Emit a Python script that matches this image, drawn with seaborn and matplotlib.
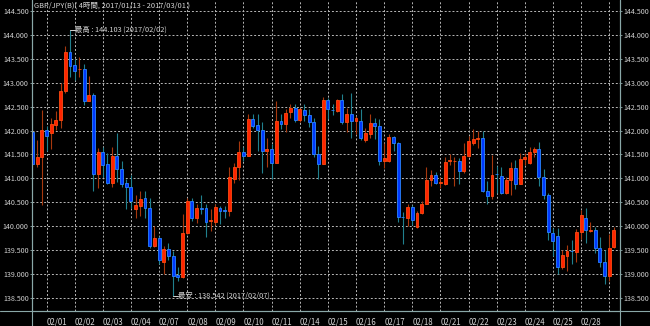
import numpy as np
import pandas as pd
import matplotlib
matplotlib.use("Agg")
import matplotlib.pyplot as plt
import seaborn as sns
from matplotlib.lines import Line2D

# ---------------- data (GBP/JPY 4h candles) ----------------
opens = [141.97, 141.31, 141.44, 142.01, 141.94, 142.12, 142.22, 142.82, 143.65, 143.37,
         143.28, 143.28, 142.62, 142.75, 141.10, 141.56, 141.31, 140.91, 141.47, 141.19,
         140.90, 140.81, 140.35, 140.43, 140.59, 140.38, 139.59, 139.75, 139.26, 139.53,
         139.38, 138.97, 138.93, 139.86, 140.53, 140.18, 140.38, 140.38, 140.10, 140.09,
         140.38, 140.33, 140.31, 140.99, 141.24, 141.55, 141.47, 142.24, 142.11, 142.01,
         141.57, 141.61, 141.33, 142.20, 142.13, 142.38, 142.47, 142.23, 142.43, 142.33,
         142.18, 141.51, 141.31, 142.64, 142.43, 142.40, 142.63, 142.17, 142.34, 142.19,
         142.20, 141.81, 141.92, 142.15, 142.10, 141.37, 141.37, 141.87, 141.73, 140.20,
         140.18, 140.40, 139.99, 140.27, 140.47, 140.96, 141.07, 140.90, 140.89, 141.36,
         141.36, 141.37, 141.16, 141.47, 141.73, 141.82, 141.84, 140.74, 140.63, 141.10,
         141.05, 140.70, 140.96, 141.22, 140.89, 141.40, 141.33, 141.55, 141.61, 141.02,
         140.66, 139.85, 139.80, 139.15, 139.38, 139.48, 139.47, 139.87, 140.18, 139.91,
         139.92, 139.55, 139.26, 138.96, 139.57]
highs = [142.47, 141.80, 142.43, 142.10, 142.26, 142.41, 143.00, 143.77, 144.103, 143.49,
         143.53, 143.40, 143.14, 142.79, 141.64, 141.66, 141.54, 141.66, 141.95, 141.37,
         140.98, 141.07, 140.66, 140.74, 140.74, 140.60, 140.01, 139.80, 139.59, 139.64,
         139.48, 139.14, 140.26, 140.60, 140.60, 140.47, 140.66, 140.47, 140.36, 140.47,
         140.43, 140.43, 141.23, 141.33, 141.78, 141.66, 142.34, 142.34, 142.34, 142.17,
         141.85, 141.71, 142.62, 142.34, 142.45, 142.56, 142.56, 142.47, 142.55, 142.45,
         142.27, 141.68, 142.70, 142.68, 142.55, 142.66, 142.76, 142.47, 142.79, 142.31,
         142.45, 142.06, 142.34, 142.27, 142.24, 141.73, 141.92, 141.89, 141.77, 140.29,
         140.47, 140.45, 140.32, 140.53, 141.24, 141.17, 141.14, 141.03, 141.45, 141.50,
         141.45, 141.42, 141.73, 141.89, 142.03, 141.99, 141.99, 140.95, 141.49, 141.26,
         141.24, 141.03, 141.35, 141.38, 141.54, 141.54, 141.66, 141.66, 141.77, 141.19,
         140.70, 139.97, 139.97, 139.50, 139.60, 139.71, 139.94, 140.33, 140.38, 140.08,
         139.99, 139.78, 139.50, 139.83, 139.99]
lows = [141.30, 141.24, 140.44, 141.57, 141.62, 142.01, 142.05, 142.79, 143.11, 143.05,
        143.11, 142.54, 142.61, 140.74, 140.79, 141.02, 140.88, 140.83, 140.93, 140.81,
        140.37, 140.39, 140.18, 140.22, 140.18, 139.55, 139.57, 139.22, 139.01, 139.29,
        138.542, 138.86, 138.91, 139.83, 140.11, 140.06, 140.25, 139.78, 139.90, 140.03,
        140.04, 140.18, 140.22, 140.91, 140.96, 141.37, 141.47, 142.05, 141.57, 141.12,
        141.24, 140.98, 141.33, 142.03, 141.98, 142.27, 142.17, 142.17, 142.20, 142.08,
        141.44, 140.98, 141.31, 142.24, 142.33, 142.38, 142.13, 141.98, 141.84, 141.92,
        141.80, 141.77, 141.84, 141.82, 141.28, 141.21, 141.35, 141.57, 140.08, 139.62,
        140.01, 140.03, 139.97, 140.25, 140.46, 140.84, 140.88, 140.80, 140.86, 141.28,
        140.84, 140.89, 141.12, 141.45, 141.70, 141.64, 140.72, 140.46, 140.56, 140.70,
        140.67, 140.68, 140.66, 140.77, 140.88, 141.28, 141.31, 141.44, 140.84, 140.56,
        139.71, 139.38, 139.00, 139.10, 139.07, 139.22, 139.26, 139.73, 139.65, 139.87,
        139.45, 139.14, 138.80, 138.86, 139.55]
closes = [141.31, 141.45, 142.01, 141.89, 142.13, 142.23, 142.83, 143.65, 143.35, 143.25,
          143.29, 142.62, 142.75, 141.10, 141.56, 141.28, 140.91, 141.47, 141.19, 140.89,
          140.81, 140.52, 140.45, 140.56, 140.38, 139.59, 139.75, 139.29, 139.53, 139.38,
          138.96, 138.93, 139.86, 140.53, 140.18, 140.39, 140.37, 140.09, 140.12, 140.40,
          140.32, 140.31, 141.02, 141.24, 141.55, 141.46, 142.24, 142.10, 142.01, 141.57,
          141.62, 141.33, 142.20, 142.13, 142.36, 142.47, 142.23, 142.45, 142.33, 142.17,
          141.51, 141.31, 142.64, 142.45, 142.42, 142.63, 142.17, 142.34, 142.20, 142.26,
          141.84, 141.94, 142.15, 142.10, 141.37, 141.42, 141.87, 141.73, 140.20, 140.19,
          140.40, 140.13, 140.27, 140.47, 140.96, 141.07, 140.91, 140.92, 141.35, 141.38,
          141.37, 141.16, 141.47, 141.78, 141.82, 141.85, 140.74, 140.63, 141.08, 141.09,
          140.70, 140.96, 141.22, 140.89, 141.40, 141.44, 141.56, 141.62, 141.02, 140.66,
          139.87, 139.69, 139.15, 139.40, 139.48, 139.48, 139.87, 140.24, 139.92, 139.92,
          139.55, 139.26, 138.96, 139.55, 139.92]
date_labels = ["02/01", "02/02", "02/03", "02/04", "02/07", "02/08", "02/09", "02/10",
               "02/11", "02/14", "02/15", "02/16", "02/17", "02/18", "02/21", "02/22",
               "02/23", "02/24", "02/25", "02/28"]
y_ticks = [138.5, 139.0, 139.5, 140.0, 140.5, 141.0, 141.5, 142.0, 142.5, 143.0, 143.5, 144.0, 144.5]
title = "GBP/JPY(B)( 4時間, 2017/01/13 - 2017/03/01 )"
hi_date = "2017/02/02"
lo_date = "2017/02/07"

# ---------------- style ----------------
BG = "#000000"
AXC = "#8aa8a8"
TXT = "#d4d4d4"
GRIDC = "#b8b8b8"
UP_FACE, UP_EDGE, UP_WICK = "#ff2400", "#ff4a10", "#a8380e"
DN_FACE, DN_EDGE, DN_WICK = "#0038ff", "#2a84ff", "#20808e"

sns.set_style("dark", {"axes.facecolor": BG, "figure.facecolor": BG})
plt.rcParams["font.family"] = ["Liberation Sans Narrow", "Noto Sans CJK JP", "DejaVu Sans"]

df = pd.DataFrame({"open": opens, "high": highs, "low": lows, "close": closes})
df["idx"] = np.arange(len(df))
df["up"] = df["close"] > df["open"]

W, H = 650, 326
fig = plt.figure(figsize=(W / 100, H / 100), dpi=100, facecolor=BG)
ax = fig.add_axes([32 / W, 15.5 / H, 588 / W, 310.5 / H])
ax.set_facecolor(BG)

wick_cols = np.where(df["up"], UP_WICK, DN_WICK)
face_cols = np.where(df["up"], UP_FACE, DN_FACE)
edge_cols = np.where(df["up"], UP_EDGE, DN_EDGE)

ax.vlines(df["idx"], df["low"], df["high"], colors=wick_cols, linewidth=0.8, zorder=3)
body_h = np.maximum((df["close"] - df["open"]).abs(), 0.012)
body_b = np.minimum(df["open"], df["close"])
ax.bar(df["idx"], body_h, bottom=body_b, width=0.62, color=face_cols,
       edgecolor=edge_cols, linewidth=0.6, zorder=4)

# axes limits
ax.set_xlim(-0.1, 125.3)
ax.set_ylim(138.238, 144.73)

# ticks / grid
first_tick = 3
xt = [first_tick + 6 * k for k in range(len(date_labels) + 1)]
ax.set_xticks(xt)
ax.set_xticklabels(date_labels + [""])
for lbl in ax.get_xticklabels():
    lbl.set_ha("left")
ax.set_yticks(y_ticks)
ax.yaxis.set_major_formatter(matplotlib.ticker.FormatStrFormatter("%.3f"))
ax.grid(True, color=GRIDC, linestyle=(0, (2, 2)), linewidth=0.7, zorder=1)
ax.set_axisbelow(True)
ax.tick_params(axis="y", left=True, right=True, labelleft=True, labelright=True,
               length=1.6, width=0.6, color=AXC, labelcolor=TXT, labelsize=5.1, pad=0.8)
ax.tick_params(axis="x", length=0, labelcolor=TXT, labelsize=5.7, pad=5)

ax.spines["top"].set_visible(False)
for s in ["left", "right", "bottom"]:
    ax.spines[s].set_visible(True)
    ax.spines[s].set_color(AXC)
    ax.spines[s].set_linewidth(0.8)

# extend frame lines to figure edges
fig.add_artist(Line2D([32 / W, 32 / W], [0, 1], transform=fig.transFigure, color=AXC, lw=0.8))
fig.add_artist(Line2D([620 / W, 620 / W], [0, 1], transform=fig.transFigure, color=AXC, lw=0.8))
fig.add_artist(Line2D([0, 1], [15.5 / H, 15.5 / H], transform=fig.transFigure, color=AXC, lw=0.8))

# title
fig.text(34 / W, 1 - 5.5 / H, title, ha="left", va="center", fontsize=5.4, color=TXT,
         family=["Noto Sans CJK JP", "DejaVu Sans"])

# high / low annotations
ihi = int(np.argmax(df["high"]))
ilo = int(np.argmin(df["low"]))
hi = df["high"].iloc[ihi]
lo = df["low"].iloc[ilo]
for i, v, tag, d in [(ihi, hi, "最高", hi_date), (ilo, lo, "最安", lo_date)]:
    ax.plot([i, i + 1.0], [v, v], color=TXT, lw=0.7, zorder=5)
    ax.text(i + 1.1, v, f"{tag} : {v:.3f} ({d})", ha="left", va="center", fontsize=5.3,
            color=TXT, family=["Noto Sans CJK JP", "DejaVu Sans"], zorder=5)

fig.savefig("out.png", dpi=100, facecolor=BG)
